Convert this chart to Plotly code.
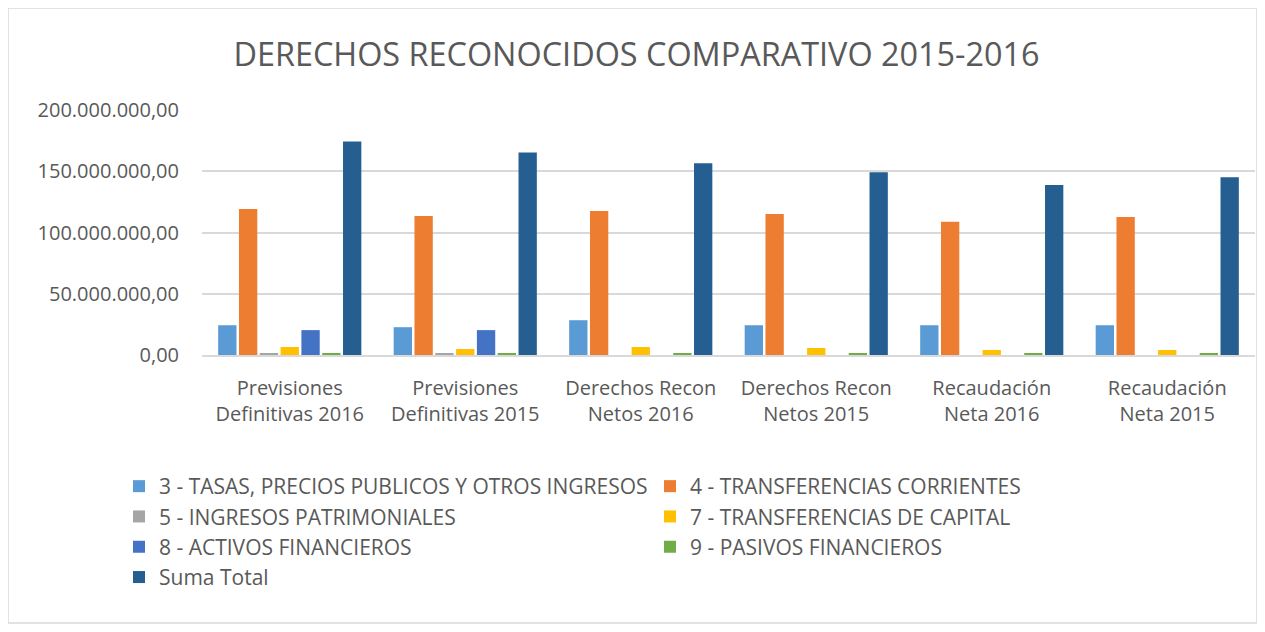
import plotly.graph_objects as go

categories = [
    "Previsiones<br>Definitivas 2016",
    "Previsiones<br>Definitivas 2015",
    "Derechos Recon<br>Netos 2016",
    "Derechos Recon<br>Netos 2015",
    "Recaudación<br>Neta 2016",
    "Recaudación<br>Neta 2015",
]

series_names = [
    "3 - TASAS, PRECIOS PUBLICOS Y OTROS INGRESOS",
    "4 - TRANSFERENCIAS CORRIENTES",
    "5 - INGRESOS PATRIMONIALES",
    "7 - TRANSFERENCIAS DE CAPITAL",
    "8 - ACTIVOS FINANCIEROS",
    "9 - PASIVOS FINANCIEROS",
    "Suma Total",
]

tasas = [24.3e6, 22.7e6, 28.4e6, 24.3e6, 24.3e6, 24.3e6]
transf_corrientes = [119.2e6, 113.5e6, 117.6e6, 115.1e6, 108.7e6, 112.7e6]
ingresos_patrimoniales = [1.2e6, 1.2e6, 0, 0, 0, 0]
transf_capital = [6.5e6, 4.9e6, 6.5e6, 5.7e6, 4.1e6, 4.1e6]
activos_financieros = [20.3e6, 20.3e6, 0, 0, 0, 0]
pasivos_financieros = [1.4e6, 1.4e6, 1.4e6, 1.4e6, 1.4e6, 1.4e6]
suma_total = [174.3e6, 165.4e6, 156.5e6, 149.2e6, 138.7e6, 145.2e6]

colors = ["#5B9BD5", "#ED7D31", "#A5A5A5", "#FFC000", "#4472C4", "#70AD47", "#255E91"]

tick_vals = [0, 50e6, 100e6, 150e6, 200e6]
tick_text = ["0,00", "50.000.000,00", "100.000.000,00", "150.000.000,00", "200.000.000,00"]

all_series = [tasas, transf_corrientes, ingresos_patrimoniales, transf_capital,
              activos_financieros, pasivos_financieros, suma_total]

fig = go.Figure()
for name, vals, col in zip(series_names, all_series, colors):
    fig.add_trace(go.Bar(x=categories, y=vals, name=name, marker_color=col,
                         marker_line_width=0))

# page renders with an 8px offset; work in screen pixels and subtract it
OFF = 8
W, H = 1265 - OFF, 632 - OFF
L, R, T, B = 202 - OFF, 18 - OFF, 110 - OFF, 277
pw, ph = W - L - R, H - T - B

def px_x(x):
    return (x - OFF - L) / pw

def px_y(y):
    return (H - B - (y - OFF)) / ph

fig.update_layout(
    width=W, height=H,
    margin=dict(l=L, r=R, t=T, b=B),
    paper_bgcolor="white", plot_bgcolor="white",
    barmode="group", bargap=0.17, bargroupgap=0.12,
    font=dict(family="Open Sans, Liberation Sans, sans-serif", color="#595959"),
    title=dict(text="DERECHOS RECONOCIDOS COMPARATIVO 2015-2016",
               x=0.5, xref="container", xanchor="center",
               y=1 - (55 - OFF) / H, yanchor="middle",
               font=dict(size=32.4, color="#595959")),
    showlegend=True,
    legend=dict(orientation="h", x=px_x(119), xanchor="left", y=px_y(466), yanchor="top",
                entrywidth=486, entrywidthmode="pixels",
                font=dict(size=21, color="#595959"), traceorder="normal",
                itemwidth=30),
    shapes=[dict(type="rect", xref="paper", yref="paper",
                 x0=px_x(8), x1=px_x(1257), y0=px_y(623), y1=px_y(8),
                 line=dict(color="#D9D9D9", width=1.5), fillcolor="rgba(0,0,0,0)",
                 layer="below")],
)
fig.update_xaxes(showgrid=False, showline=True, linecolor="#D9D9D9", linewidth=2,
                 tickfont=dict(size=20, color="#595959"), ticks="", ticklabelstandoff=14)
fig.update_yaxes(range=[0, 200e6], tickvals=tick_vals, ticktext=tick_text,
                 showgrid=True, gridcolor="#D9D9D9", gridwidth=1.5, zeroline=False,
                 showline=False, ticks="", ticklabelstandoff=22,
                 tickfont=dict(size=20, color="#595959"))

fig.write_html("out.html")
